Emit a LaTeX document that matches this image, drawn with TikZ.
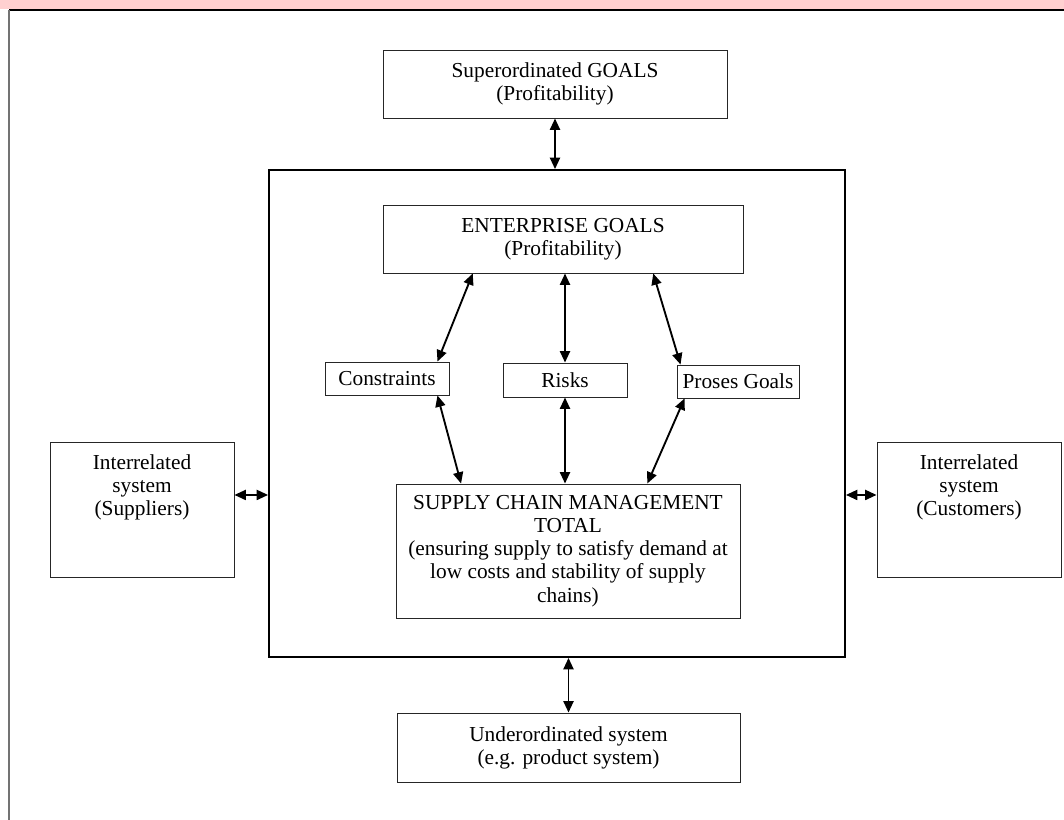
\documentclass[tikz,border=0pt]{standalone}
\usepackage{fontspec}
\setmainfont{Liberation Serif}
\usetikzlibrary{arrows.meta,calc}
\definecolor{stripcol}{RGB}{255,208,208}
\begin{document}
\begin{tikzpicture}[x=0.75pt,y=-0.75pt,
  every node/.style={font=\fontsize{16}{17.4}\selectfont, align=center, inner sep=0pt},
  box/.style={draw=black!85, line width=0.7pt, fill=white},
  bigbox/.style={draw=black, line width=1.4pt},
  arr/.style={line width=1.4pt, {Triangle[length=8.5pt,width=7.5pt]}-{Triangle[length=8.5pt,width=7.5pt]}},
]
\useasboundingbox (0,0) rectangle (1064,820);

% page frame
\fill[stripcol] (0,0) rectangle (1064,9.5);
\coordinate (tl) at (9,10);
\draw[black, line width=0.8pt] (tl) -- (1064,10);
\draw[black!55, line width=1pt] (tl) -- (9,820);

% enterprise system boundary
\node[bigbox, minimum width=432pt, minimum height=365.25pt] (big) at (557,413.5) {};

% surrounding systems
\node[box, minimum width=258pt, minimum height=51pt] (sup) at (555,84)
  {Superordinated GOALS\\(Profitability)};
\node[box, minimum width=257.25pt, minimum height=51.75pt] (und) at (568.5,747.5)
  {Underordinated system\\(e.g. product system)};
\node[box, minimum width=138pt, minimum height=101.25pt] (supl) at (142,509.5) {};
\node[anchor=north] (suplT) at ([yshift=-9.4pt]supl.north) {Interrelated\\system\\(Suppliers)};
\node[box, minimum width=138pt, minimum height=101.25pt] (cust) at (969,509.5) {};
\node[anchor=north] (custT) at ([yshift=-9.4pt]cust.north) {Interrelated\\system\\(Customers)};

% inside the enterprise
\node[box, minimum width=270pt, minimum height=51pt] (ent) at (563,239)
  {ENTERPRISE GOALS\\(Profitability)};
\node[box, minimum width=93pt, minimum height=24.75pt] (con) at (387,378.5) {Constraints};
\node[box, minimum width=93pt, minimum height=25.5pt] (risk) at (565,380) {Risks};
\node[box, minimum width=91.5pt, minimum height=24.75pt] (pro) at (738,381.5) {Proses Goals};
\node[box, minimum width=258pt, minimum height=100.5pt] (scm) at (568,551)
  {SUPPLY CHAIN MANAGEMENT\\TOTAL\\(ensuring supply to satisfy demand at\\low costs and stability of supply\\chains)};

% links across the boundary
\draw[arr] (sup.south) -- (sup.south |- big.north);
\draw[arr] (big.south -| und.north) -- (und.north);
\draw[arr] ([yshift=10.9pt]supl.east) coordinate (la) -- (la -| big.west);
\draw[arr] ([yshift=10.9pt]cust.west) coordinate (ra) -- (ra -| big.east);

% links inside the enterprise
\draw[arr] ($(ent.south west)!0.25!(ent.south east)$) -- ([xshift=-9pt]con.north east);
\draw[arr] (ent.south -| risk.north) -- (risk.north);
\draw[arr] ($(ent.south west)!0.75!(ent.south east)$) -- ([xshift=3pt]pro.north west);
\draw[arr] ([xshift=-9pt]con.south east) -- ($(scm.north west)!0.19!(scm.north east)$);
\draw[arr] (risk.south) -- (risk.south |- scm.north);
\draw[arr] ([xshift=6pt]pro.south west) -- ($(scm.north west)!0.73!(scm.north east)$);
\end{tikzpicture}
\end{document}
